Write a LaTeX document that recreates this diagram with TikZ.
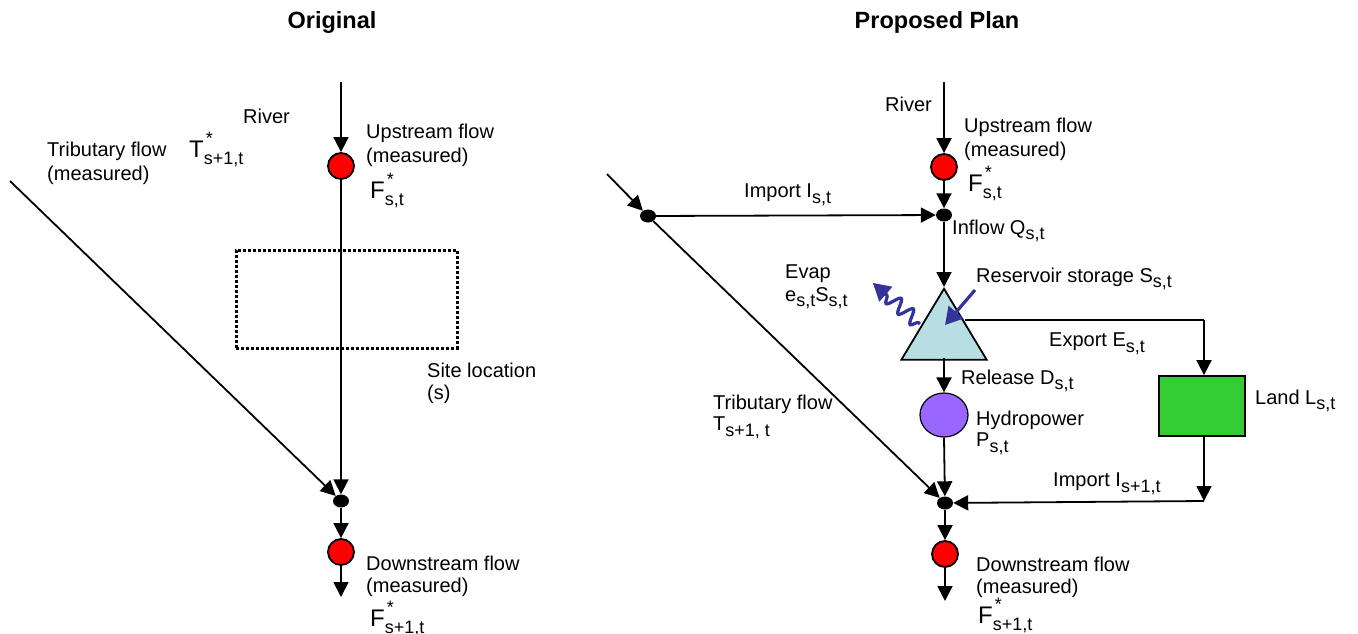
\documentclass[tikz,border=0pt]{standalone}
\usepackage{fontspec}
\setmainfont{Liberation Sans}
\usetikzlibrary{arrows.meta,shapes.geometric,decorations.pathmorphing}
\definecolor{redfill}{HTML}{FF0000}
\definecolor{lakeblue}{HTML}{B7DFE3}
\definecolor{landgreen}{HTML}{33CC33}
\definecolor{hydro}{HTML}{9966FF}
\definecolor{arrowblue}{HTML}{333399}
\newcommand{\lowt}[1]{\raisebox{-0.28em}{\fontsize{18}{18}\selectfont #1}}
\newcommand{\stard}[2]{#1\rlap{\raisebox{0.55em}{\hspace{0.08em}\fontsize{18}{18}\selectfont *}}\lowt{#2}}
\tikzset{
  x=1pt,y=-1pt,
  flow/.style={line width=1.8pt,-{Triangle[length=15pt,width=15pt]}},
  plain/.style={line width=1.8pt},
  bluearrow/.style={color=arrowblue,line width=3.2pt,-{Triangle[length=17pt,width=19pt]}},
  gauge/.style={circle,draw=black,line width=1.8pt,fill=redfill,minimum size=26pt,inner sep=0pt},
  junction/.style={ellipse,fill=black,minimum width=16pt,minimum height=13pt,inner sep=0pt},
  lbl/.style={anchor=west,inner sep=0pt,align=left,font=\fontsize{20}{23}\selectfont},
  head/.style={inner sep=0pt,font=\fontsize{23.5}{27}\selectfont\bfseries},
}
\begin{document}
\begin{tikzpicture}
\useasboundingbox (0,0) rectangle (1358,633);
% ---------- Original
\node[head] (t1) at (332,22) {Original};
\coordinate (a0) at (341,82);
\node[gauge] (a1) at (341,166) {};
\node[junction] (a2) at (341,501) {};
\node[gauge] (a3) at (341,552) {};
\coordinate (a4) at (341,597);
\coordinate (a5) at (10,181);
\draw[flow] (a0) -- (a1);
\draw[flow] (a1) -- (a2);
\draw[flow] (a5) -- (a2);
\draw[flow] (a2) -- (a3);
\draw[flow] (a3) -- (a4);
\node[draw=black,dotted,line width=3pt,minimum width=221pt,minimum height=98pt,inner sep=0pt] (site) at (346.5,299) {};
\node[lbl] (l1) at (243,116) {River};
\node[lbl] (l2) at (366,133) {Upstream flow};
\node[lbl] (l3) at (366,157) {(measured)};
\node[lbl,font=\fontsize{24}{27}\selectfont] (l4) at (370,190) {\stard{F}{s,t}};
\node[lbl] (l5) at (47,151) {Tributary flow};
\node[lbl] (l6) at (47,175) {(measured)};
\node[lbl,font=\fontsize{24}{27}\selectfont] (l7) at (189,149) {\stard{T}{s+1,t}};
\node[lbl] (l8) at (427,370) {Site location};
\node[lbl] (l9) at (427,394) {(s)};
\node[lbl] (l10) at (366,563) {Downstream flow};
\node[lbl] (l11) at (366,587) {(measured)};
\node[lbl,font=\fontsize{24}{27}\selectfont] (l12) at (370,618) {\stard{F}{s+1,t}};
% ---------- Proposed plan
\node[head] (t2) at (937,22) {Proposed Plan};
\coordinate (b0) at (944,82);
\node[gauge] (b1) at (944,167) {};
\node[junction] (b2) at (944,215) {};
\node[junction] (b3) at (648,216) {};
\coordinate (b4) at (607,174);
\node[isosceles triangle,isosceles triangle apex angle=62,shape border rotate=90,draw=black,line width=1.8pt,fill=lakeblue,minimum height=71pt,inner sep=0pt,anchor=apex] (tri) at (944,287) {};
\node[ellipse,draw=black,line width=1.2pt,fill=hydro,minimum width=48pt,minimum height=44pt,inner sep=0pt] (hp) at (944,415) {};
\node[junction] (b5) at (945,503) {};
\node[gauge] (b6) at (945,554) {};
\coordinate (b7) at (945,601);
\coordinate (e0) at (965,320);
\coordinate (e1) at (1204,320);
\node[draw=black,line width=1.8pt,fill=landgreen,minimum width=86pt,minimum height=60pt,inner sep=0pt] (land) at (1202,406) {};
\coordinate (e2) at (1204,501);
\draw[flow] (b0) -- (b1);
\draw[flow] (b1) -- (b2);
\draw[flow] (b4) -- (b3);
\draw[flow] (b3) -- (b2);
\draw[flow] (b2) -- (tri.apex);
\draw[flow] (b3) -- (b5);
\draw[flow] (944,358) -- (hp.north);
\draw[flow] (hp.south) -- (b5);
\draw[flow] (b5) -- (b6);
\draw[flow] (b6) -- (b7);
\draw[plain] (e0) -- (e1);
\draw[flow] (e1) -- (e1 |- land.north);
\draw[flow] (e2 |- land.south) -- (e2);
\draw[flow] (e2) -- (b5);
\coordinate (wa) at (920,324);
\coordinate (wb) at (873,283);
\draw[bluearrow,decorate,decoration={snake,segment length=16pt,amplitude=7pt,post length=17pt,pre length=2pt}] (wa) -- (wb);
\draw[bluearrow,-{Triangle[length=17pt,width=16pt]}] (wb) ++(9,8) -- (wb);
\coordinate (ra) at (975,290);
\coordinate (rb) at (945,325);
\draw[bluearrow] (ra) -- (rb);
\node[lbl] (r1) at (885,104) {River};
\node[lbl] (r2) at (964,127) {Upstream flow};
\node[lbl] (r3) at (964,151) {(measured)};
\node[lbl,font=\fontsize{24}{27}\selectfont] (r4) at (968,183) {\stard{F}{s,t}};
\node[lbl] (r5) at (744,195) {Import I\lowt{s,t}};
\node[lbl] (r6) at (952,231) {Inflow Q\lowt{s,t}};
\node[lbl] (r7) at (976,279) {Reservoir storage S\lowt{s,t}};
\node[lbl] (r8) at (785,274) {Evap};
\node[lbl] (r9) at (785,298) {e\lowt{s,t}S\lowt{s,t}};
\node[lbl] (r10) at (1049,344) {Export E\lowt{s,t}};
\node[lbl] (r11) at (961,381) {Release D\lowt{s,t}};
\node[lbl] (r12) at (976,420) {Hydropower};
\node[lbl] (r13) at (976,444) {P\lowt{s,t}};
\node[lbl] (r14) at (1255,401) {Land L\lowt{s,t}};
\node[lbl] (r15) at (713,404) {Tributary flow};
\node[lbl] (r16) at (713,428) {T\lowt{s+1, t}};
\node[lbl] (r17) at (1053,484) {Import I\lowt{s+1,t}};
\node[lbl] (r18) at (976,564) {Downstream flow};
\node[lbl] (r19) at (976,588) {(measured)};
\node[lbl,font=\fontsize{24}{27}\selectfont] (r20) at (978,615) {\stard{F}{s+1,t}};
\end{tikzpicture}
\end{document}
